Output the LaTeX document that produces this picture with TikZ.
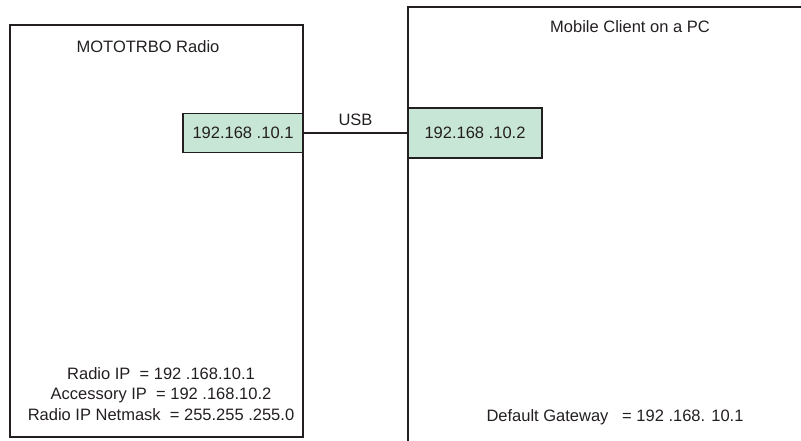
\documentclass[tikz,border=0pt]{standalone}
\usepackage{fontspec}
\setmainfont{Liberation Sans}
\definecolor{txt}{HTML}{231F20}
\definecolor{mint}{HTML}{C8E6D6}
\tikzset{
  frame/.style={draw=txt, line width=1.3pt, inner sep=0pt},
  ipbox/.style={draw=txt, line width=1.3pt, fill=mint, inner sep=0pt, text=txt},
  lbl/.style={text=txt, inner sep=0pt},
  link/.style={draw=txt, line width=1.3pt}
}
\begin{document}
\begin{tikzpicture}[x=1pt,y=-1pt, font=\fontsize{16.5}{20.5}\selectfont]
\useasboundingbox (0,0) rectangle (801,441);
\clip (0,0) rectangle (801,441);
\node[frame, minimum width=293pt, minimum height=412pt] (radio) at (156.5,231) {};
\node[frame, minimum width=422pt, minimum height=463pt] (pc) at (619,238.5) {};
\node[ipbox, minimum width=120pt, minimum height=39pt] (ip1) at (243,133) {192.168 .10.1};
\node[ipbox, minimum width=134pt, minimum height=50pt] (ip2) at (475,133) {192.168 .10.2};
\draw[link] (ip1.east) -- node[lbl, above=7pt] (usb) {USB} (ip2.west);
\node[lbl] (radiotitle) at (148,47) {MOTOTRBO Radio};
\node[lbl] (pctitle) at (630,27) {Mobile Client on a PC};
\node[lbl, align=center] (radioinfo) at (161,394) {Radio IP\ \ = 192 .168.10.1\\Accessory IP\ \ = 192 .168.10.2\\Radio IP Netmask\ \ = 255.255 .255.0};
\node[lbl] (gw) at (615,417) {Default Gateway\ \ \ = 192 .168. 10.1};
\end{tikzpicture}
\end{document}
